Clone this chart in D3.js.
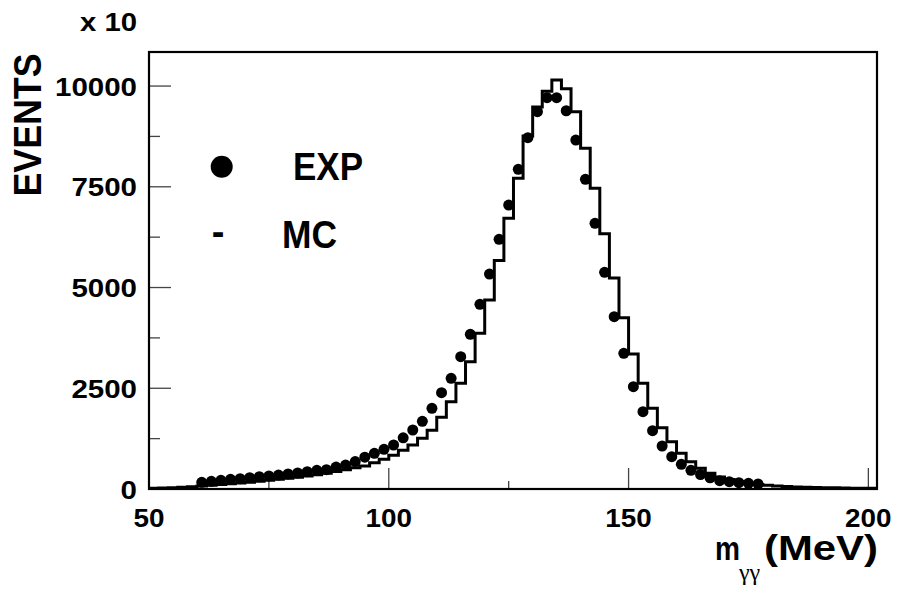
<!DOCTYPE html>
<html>
<head>
<meta charset="utf-8">
<script src="https://cdn.jsdelivr.net/npm/d3@7"></script>
<style>
  html, body { margin: 0; padding: 0; background: #fff; }
  svg { display: block; }
  text { font-family: "Liberation Sans", Arial, sans-serif; font-weight: bold; fill: #000; }
</style>
</head>
<body>
<svg id="chart" width="897" height="594"></svg>
<script>
// ---- data ----
const binWidth = 2;            // MeV
const mcFirstBin = 50;         // low edge of first MC bin
const mcCounts = [
  18, 25, 33, 44, 58, 75, 92, 110, 130, 150,
  170, 192, 215, 240, 265, 292, 322, 355, 392, 432,
  478, 525, 568, 650, 740, 840, 960, 1090, 1260, 1460,
  1779, 2167, 2622, 3159, 3863, 4690, 5670, 6720, 7710, 8760,
  9480, 9870, 10149, 9930, 9363, 8454, 7462, 6335, 5236, 4251,
  3350, 2622, 2002, 1522, 1174, 885, 678, 513, 390, 300,
  235, 180, 140, 110, 90, 74, 61, 51, 43, 37,
  32, 28, 24, 21, 18, 16
];
const expFirstBin = 60;        // low edge of first data bin
const expCounts = [
  165, 190, 215, 240, 256, 281, 306, 323, 347, 372,
  397, 430, 463, 480, 545, 595, 680, 790, 885, 985,
  1092, 1270, 1464, 1680, 2002, 2390, 2747, 3283, 3838, 4583,
  5335, 6196, 7047, 7933, 8718, 9363, 9710, 9710, 9387, 8660,
  7685, 6593, 5377, 4276, 3367, 2539, 1919, 1447, 1067, 801,
  613, 463, 360, 278, 207, 182, 157, 141, 124
];
const xMajorTicks = [50, 100, 150, 200];
const xMinorTicks = [75, 125, 175];
const yMajorTicks = [0, 2500, 5000, 7500, 10000];
const yMinorTicks = [1250, 3750, 6250, 8750];
const xDomain = [50, 201.8];
const yDomain = [0, 10845];

// ---- layout ----
const svg = d3.select("#chart");
const L = 149, R = 877, T = 52, B = 489;
const x = d3.scaleLinear().domain(xDomain).range([L, R]);
const y = d3.scaleLinear().domain(yDomain).range([B, T]);

svg.append("defs").append("clipPath").attr("id", "plotclip")
  .append("rect").attr("x", L).attr("y", T).attr("width", R - L).attr("height", B - T);

// ticks (drawn inward from left and bottom axes)
const tickColor = "#444";
const yAx = svg.append("g");
yAx.selectAll(".ymaj").data(yMajorTicks).join("line")
  .attr("x1", L).attr("x2", L + 22)
  .attr("y1", d => y(d)).attr("y2", d => y(d))
  .attr("stroke", tickColor).attr("stroke-width", 1.3);
yAx.selectAll(".ymin").data(yMinorTicks).join("line")
  .attr("x1", L).attr("x2", L + 11)
  .attr("y1", d => y(d)).attr("y2", d => y(d))
  .attr("stroke", tickColor).attr("stroke-width", 1.3);
const xAx = svg.append("g");
xAx.selectAll(".xmaj").data(xMajorTicks).join("line")
  .attr("x1", d => x(d)).attr("x2", d => x(d))
  .attr("y1", B).attr("y2", B - 21)
  .attr("stroke", tickColor).attr("stroke-width", 1.3);
xAx.selectAll(".xmin").data(xMinorTicks).join("line")
  .attr("x1", d => x(d)).attr("x2", d => x(d))
  .attr("y1", B).attr("y2", B - 8)
  .attr("stroke", tickColor).attr("stroke-width", 1.3);

// tick labels
svg.append("g").selectAll("text").data(yMajorTicks).join("text")
  .attr("x", 137).attr("y", d => y(d) + 9.5)
  .attr("text-anchor", "end")
  .attr("font-size", 26.5)
  .attr("textLength", d => String(d).length * 16.4)
  .attr("lengthAdjust", "spacingAndGlyphs")
  .text(d => d);
svg.append("g").selectAll("text").data(xMajorTicks).join("text")
  .attr("x", d => x(d)).attr("y", 527)
  .attr("text-anchor", "middle")
  .attr("font-size", 26)
  .attr("textLength", d => String(d).length * 15.5)
  .attr("lengthAdjust", "spacingAndGlyphs")
  .text(d => d);

// MC histogram (step outline)
const mcPts = mcCounts.map((v, i) => [mcFirstBin + i * binWidth, v]);
mcPts.push([mcFirstBin + mcCounts.length * binWidth, mcCounts[mcCounts.length - 1]]);
const stepLine = d3.line().x(d => x(d[0])).y(d => y(d[1])).curve(d3.curveStepAfter);
svg.append("path")
  .attr("d", stepLine(mcPts))
  .attr("fill", "none").attr("stroke", "#000").attr("stroke-width", 3)
  .attr("stroke-linejoin", "miter")
  .attr("clip-path", "url(#plotclip)");

// experimental points
svg.append("g").selectAll("circle").data(expCounts).join("circle")
  .attr("cx", (v, i) => x(expFirstBin + (i + 0.5) * binWidth))
  .attr("cy", v => y(v))
  .attr("r", 5.5)
  .attr("fill", "#000");

// frame
svg.append("rect")
  .attr("x", L).attr("y", T).attr("width", R - L).attr("height", B - T)
  .attr("fill", "none").attr("stroke", "#000").attr("stroke-width", 2.2);

// multiplier
svg.append("text").attr("x", 137).attr("y", 31).attr("text-anchor", "end")
  .attr("font-size", 26.5).attr("textLength", 57).attr("lengthAdjust", "spacingAndGlyphs")
  .text("x 10");

// y axis title
svg.append("text")
  .attr("transform", "translate(41,125) rotate(-90)")
  .attr("text-anchor", "middle")
  .attr("font-size", 38)
  .attr("textLength", 143).attr("lengthAdjust", "spacingAndGlyphs")
  .text("EVENTS");

// legend
svg.append("circle").attr("cx", 221.7).attr("cy", 166.7).attr("r", 11).attr("fill", "#000");
svg.append("text").attr("x", 293).attr("y", 179.5).attr("font-size", 38)
  .attr("textLength", 70).attr("lengthAdjust", "spacingAndGlyphs").text("EXP");
svg.append("text").attr("x", 218).attr("y", 245).attr("text-anchor", "middle").attr("font-size", 38)
  .text("-");
svg.append("text").attr("x", 282).attr("y", 248).attr("font-size", 38)
  .attr("textLength", 55).attr("lengthAdjust", "spacingAndGlyphs").text("MC");

// x axis title
svg.append("text").attr("x", 715).attr("y", 560).attr("font-size", 33)
  .attr("textLength", 25).attr("lengthAdjust", "spacingAndGlyphs").text("m");
svg.append("text").attr("x", 739).attr("y", 580)
  .attr("font-size", 24)
  .style("font-family", "'Liberation Serif', 'DejaVu Serif', serif").style("font-weight", "normal")
  .text("γγ");
svg.append("text").attr("x", 764).attr("y", 560).attr("font-size", 35)
  .attr("textLength", 114).attr("lengthAdjust", "spacingAndGlyphs").text("(MeV)");
</script>
</body>
</html>
